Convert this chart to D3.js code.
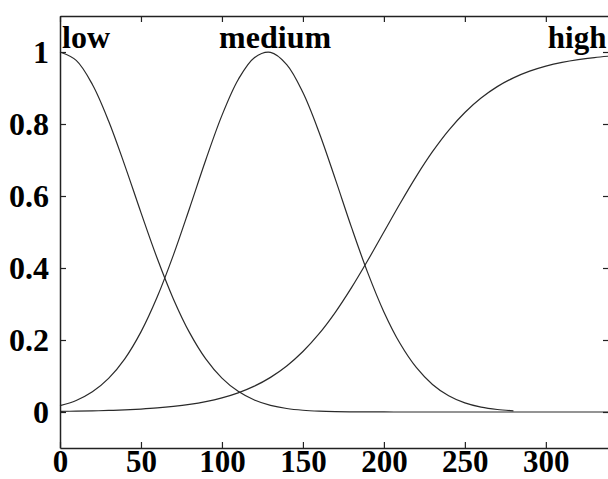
<!DOCTYPE html>
<html>
<head>
<meta charset="utf-8">
<script src="https://cdn.jsdelivr.net/npm/d3@7"></script>
<style>
  html, body { margin: 0; padding: 0; background: #fff; }
  svg { display: block; }
  text { font-family: "Liberation Serif", "Times New Roman", serif; font-weight: bold; fill: #000; }
</style>
</head>
<body>
<svg id="chart" width="608" height="479"></svg>
<script>
// ---- data ----
const xValues = [0,10,20,30,40,50,60,70,80,90,100,110,120,130,140,150,160,170,180,190,200,
                 210,220,230,240,250,260,270,280,290,300,310,320,330,340];
const lowValues = [1,0.9767,0.9098,0.8084,0.6852,0.5539,0.4271,0.3142,0.2204,0.1475,0.0941,
                   0.0573,0.0333,0.0184,0.0097,0.0049,0.0024,0.0011,0.0005,0.0002,0.0001,
                   0,0,0,0,0,0,0,0,0,0,0,0,0,0];
const mediumValues = [0.0175,0.0321,0.0561,0.0934,0.1478,0.2226,0.3193,0.4358,0.5661,0.7001,0.8240,
                      0.9231,0.9843,0.9990,0.9651,0.8874,0.7766,0.6469,0.5129,0.3871,0.2780,
                      0.1901,0.1237,0.0766,0.0452,0.0253,0.0135,0.0069,0.0033];
const highValues = [0.0017,0.0023,0.0031,0.0043,0.0059,0.0082,0.0112,0.0154,0.0210,0.0287,0.0392,
                    0.0532,0.0718,0.0962,0.1279,0.1680,0.2175,0.2769,0.3453,0.4207,0.5,
                    0.5793,0.6547,0.7231,0.7825,0.8320,0.8721,0.9038,0.9282,0.9468,0.9608,
                    0.9713,0.9790,0.9846,0.9888];
const seriesNames = ["low", "medium", "high"];
const labelX = [0, 97, 300];          // data-x where each name starts
const xTicks = [0, 50, 100, 150, 200, 250, 300];
const xTickLabels = ["0", "50", "100", "150", "200", "250", "300"];
const yTicks = [0, 0.2, 0.4, 0.6, 0.8, 1];
const yTickLabels = ["0", "0.2", "0.4", "0.6", "0.8", "1"];

// ---- layout ----
const svg = d3.select("#chart");
const L = 60, R = 609, T = 16, B = 448;
const x = d3.scaleLinear().domain([0, 339]).range([L, R]);
const y = d3.scaleLinear().domain([-0.1, 1.1]).range([B, T]);
const FS = 32;

// curves
const line = d3.line().x(d => x(d[0])).y(d => y(d[1])).curve(d3.curveCatmullRom);
const allSeries = [lowValues, mediumValues, highValues];
svg.append("g")
  .selectAll("path").data(allSeries).join("path")
  .attr("d", vals => line(vals.map((v, i) => [xValues[i], v])))
  .attr("fill", "none").attr("stroke", "#2a2a2a").attr("stroke-width", 1.2);

// axes (MATLAB-style, ticks inward)
const tickLen = 6;
const gB = svg.append("g").attr("transform", `translate(0,${B})`)
  .call(d3.axisBottom(x).tickValues(xTicks).tickFormat((d, i) => xTickLabels[i])
        .tickSizeInner(-tickLen).tickSizeOuter(0).tickPadding(23.5));
const gT = svg.append("g").attr("transform", `translate(0,${T})`)
  .call(d3.axisTop(x).tickValues(xTicks).tickFormat("").tickSizeInner(-tickLen).tickSizeOuter(0));
const gL = svg.append("g").attr("transform", `translate(${L},0)`)
  .call(d3.axisLeft(y).tickValues(yTicks).tickFormat((d, i) => yTickLabels[i])
        .tickSizeInner(-tickLen).tickSizeOuter(0).tickPadding(tickLen + 5));
const gR = svg.append("g").attr("transform", `translate(${R},0)`)
  .call(d3.axisRight(y).tickValues(yTicks).tickFormat("").tickSizeInner(-tickLen).tickSizeOuter(0));

[gB, gT, gL, gR].forEach(g => {
  g.select(".domain").attr("stroke", "#222").attr("stroke-width", 1.5);
  g.selectAll(".tick line").attr("stroke", "#222").attr("stroke-width", 1.2);
  g.selectAll("text").attr("font-family", null).attr("font-size", FS).attr("fill", "#000");
});
gB.selectAll(".tick text").attr("dy", "0").attr("font-size", 31);
gL.selectAll(".tick text").attr("dy", "0.34em");

// series name labels
svg.append("g").selectAll("text").data(seriesNames).join("text")
  .attr("x", (d, i) => x(labelX[i]) + 2)
  .attr("y", 48)
  .attr("font-size", (d, i) => i === 2 ? 31 : FS)
  .text(d => d);
</script>
</body>
</html>
